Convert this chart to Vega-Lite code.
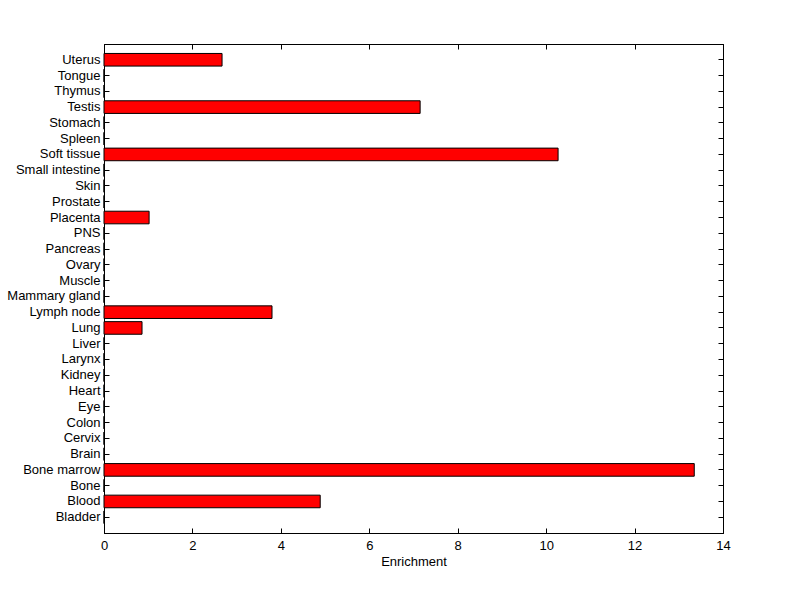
{
  "$schema": "https://vega.github.io/schema/vega-lite/v6.json",
  "width": 619,
  "height": 489,
  "autosize": "none",
  "padding": {"left": 104, "top": 44, "right": 77, "bottom": 66},
  "background": "white",
  "data": {"values": [
    {"tissue": "Uterus", "value": 2.67},
    {"tissue": "Tongue", "value": 0},
    {"tissue": "Thymus", "value": 0},
    {"tissue": "Testis", "value": 7.15},
    {"tissue": "Stomach", "value": 0},
    {"tissue": "Spleen", "value": 0},
    {"tissue": "Soft tissue", "value": 10.27},
    {"tissue": "Small intestine", "value": 0},
    {"tissue": "Skin", "value": 0},
    {"tissue": "Prostate", "value": 0},
    {"tissue": "Placenta", "value": 1.02},
    {"tissue": "PNS", "value": 0},
    {"tissue": "Pancreas", "value": 0},
    {"tissue": "Ovary", "value": 0},
    {"tissue": "Muscle", "value": 0},
    {"tissue": "Mammary gland", "value": 0},
    {"tissue": "Lymph node", "value": 3.8},
    {"tissue": "Lung", "value": 0.86},
    {"tissue": "Liver", "value": 0},
    {"tissue": "Larynx", "value": 0},
    {"tissue": "Kidney", "value": 0},
    {"tissue": "Heart", "value": 0},
    {"tissue": "Eye", "value": 0},
    {"tissue": "Colon", "value": 0},
    {"tissue": "Cervix", "value": 0},
    {"tissue": "Brain", "value": 0},
    {"tissue": "Bone marrow", "value": 13.35},
    {"tissue": "Bone", "value": 0},
    {"tissue": "Blood", "value": 4.89},
    {"tissue": "Bladder", "value": 0}
  ]},
  "config": {
    "view": {"stroke": "black", "strokeWidth": 1},
    "font": "Liberation Sans",
    "axis": {
      "labelFont": "Liberation Sans",
      "labelFontSize": 13,
      "labelColor": "black",
      "labelFlush": false,
      "titleFont": "Liberation Sans",
      "titleFontSize": 13,
      "titleFontWeight": "normal",
      "titleColor": "black",
      "tickColor": "black",
      "tickSize": -5,
      "tickWidth": 1,
      "domainColor": "black",
      "grid": false,
      "zindex": 0
    }
  },
  "layer": [
    {
      "mark": {"type": "bar", "fill": "#ff0000", "stroke": "black", "strokeWidth": 1},
      "encoding": {
        "x": {"field": "value", "type": "quantitative",
              "scale": {"domain": [0, 14], "nice": false},
              "axis": {"orient": "bottom", "title": "Enrichment", "values": [0,2,4,6,8,10,12,14], "labelPadding": 11, "titlePadding": 3}},
        "y": {"field": "tissue", "type": "nominal",
              "sort": ["Uterus","Tongue","Thymus","Testis","Stomach","Spleen","Soft tissue","Small intestine","Skin","Prostate","Placenta","PNS","Pancreas","Ovary","Muscle","Mammary gland","Lymph node","Lung","Liver","Larynx","Kidney","Heart","Eye","Colon","Cervix","Brain","Bone marrow","Bone","Blood","Bladder"],
              "scale": {"paddingInner": 0.2, "paddingOuter": 0.6},
              "axis": {"orient": "left", "title": null, "labelPadding": 9}}
      }
    },
    {
      "mark": {"type": "bar", "opacity": 0},
      "encoding": {
        "x": {"field": "value", "type": "quantitative",
              "axis": {"orient": "top", "title": null, "labels": false, "values": [0,2,4,6,8,10,12,14]}},
        "y": {"field": "tissue", "type": "nominal",
              "sort": ["Uterus","Tongue","Thymus","Testis","Stomach","Spleen","Soft tissue","Small intestine","Skin","Prostate","Placenta","PNS","Pancreas","Ovary","Muscle","Mammary gland","Lymph node","Lung","Liver","Larynx","Kidney","Heart","Eye","Colon","Cervix","Brain","Bone marrow","Bone","Blood","Bladder"],
              "axis": {"orient": "right", "title": null, "labels": false}}
      }
    }
  ],
  "resolve": {"axis": {"x": "independent", "y": "independent"}}
}
